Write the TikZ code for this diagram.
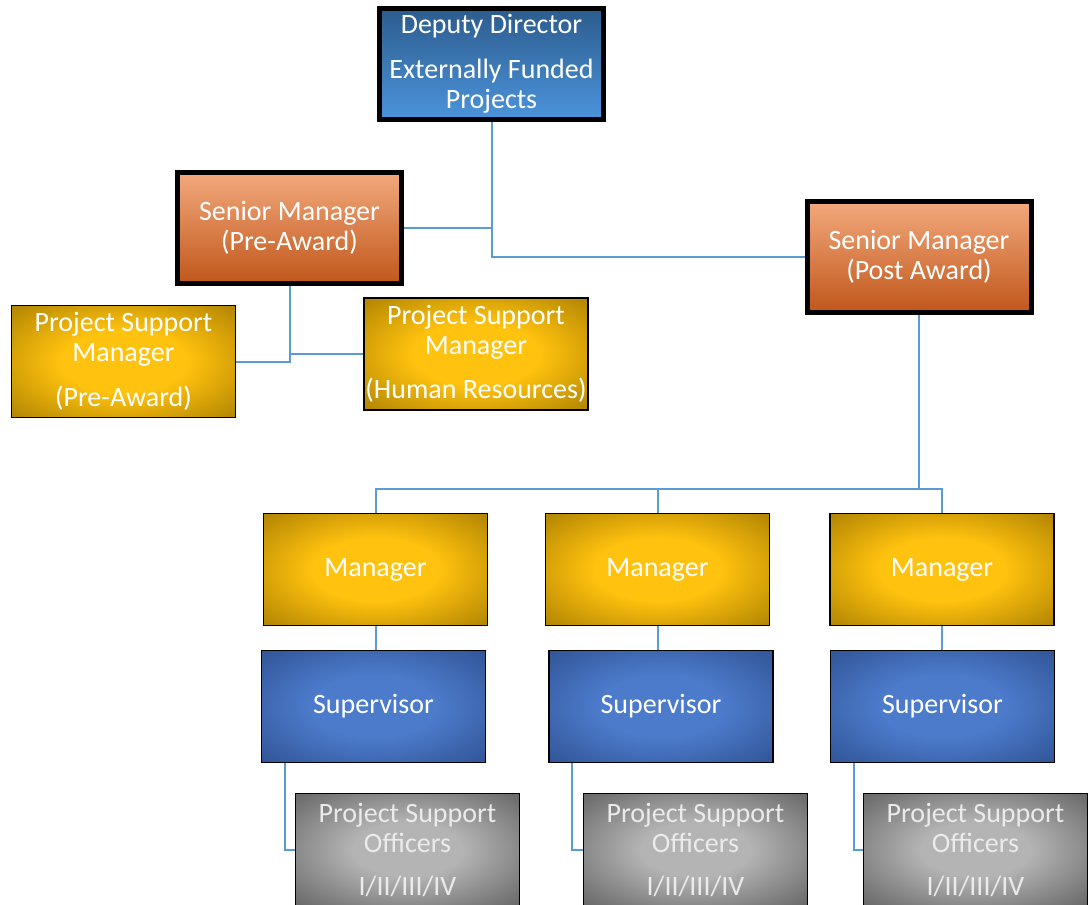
\documentclass[tikz,border=0pt]{standalone}
\usepackage{fontspec}
\setmainfont{Carlito}
\usetikzlibrary{calc}

\definecolor{linkblue}{HTML}{5B9BD5}
\definecolor{ddtop}{HTML}{2D5C8E}
\definecolor{ddbot}{HTML}{4B94DB}
\definecolor{smtop}{HTML}{F3A97D}
\definecolor{smmid}{HTML}{EC7D35}
\definecolor{smbot}{HTML}{C0571B}
\definecolor{goldmid}{HTML}{FFC20E}
\definecolor{goldedge}{HTML}{A07700}
\definecolor{supmid}{HTML}{4C7BCB}
\definecolor{supedge}{HTML}{2B4C8B}
\definecolor{greymid}{HTML}{B4B4B4}
\definecolor{greyedge}{HTML}{585858}

\pgfdeclareradialshading{goldbox}{\pgfpoint{0bp}{0bp}}%
  {color(0bp)=(goldmid); color(14bp)=(goldmid); color(40bp)=(goldedge); color(50bp)=(goldedge)}
\pgfdeclareradialshading{supbox}{\pgfpoint{0bp}{0bp}}%
  {color(0bp)=(supmid); color(14bp)=(supmid); color(40bp)=(supedge); color(50bp)=(supedge)}
\pgfdeclareradialshading{greybox}{\pgfpoint{0bp}{0bp}}%
  {color(0bp)=(greymid); color(12bp)=(greymid); color(40bp)=(greyedge); color(50bp)=(greyedge)}

\begin{document}
\begin{tikzpicture}[x=0.5pt, y=-0.5pt, line join=miter,
    unit/.style={draw=black, line width=0.75pt, align=center,
                 minimum width=112pt, minimum height=56pt, inner sep=0pt,
                 text=white, font=\fontsize{14}{15}\selectfont},
    head/.style={unit, line width=2.5pt, minimum height=55.5pt},
    director/.style={head, top color=ddtop, bottom color=ddbot},
    senior/.style={head, top color=smtop, middle color=smmid, bottom color=smbot},
    goldunit/.style={unit, shading=goldbox},
    supunit/.style={unit, shading=supbox},
    officer/.style={unit, shading=greybox, text=white!92!black},
    link/.style={draw=linkblue, line width=1pt}]

  \path[fill=white, use as bounding box] (0,0) rectangle (1088,905);

  % ── top of the chart ─────────────────────────────────────────────────────

  \node[director] (dd) at (491.5, 64)
    {Deputy Director\\[7.5pt]Externally Funded\\Projects};

  \node[senior] (smpre)  at (289.5, 228)  {Senior Manager\\(Pre-Award)};
  \node[senior] (smpost) at (919, 256.5)  {Senior Manager\\(Post Award)};

  \draw[link] (dd.south) |- (smpost.west);
  \draw[link] (smpre.east) -| (dd.south);

  % ── pre-award side ───────────────────────────────────────────────────────

  \node[goldunit] (psmpre) at (123.5, 361.5)
    {Project Support\\Manager\\[7.5pt](Pre-Award)};
  \node[goldunit] (psmhr) at (476, 354)
    {Project Support\\Manager\\[7pt](Human Resources)};

  \draw[link] (smpre.south) |- (psmpre.east);
  \draw[link] (smpre.south) |- (psmhr.west);

  % ── post-award teams ─────────────────────────────────────────────────────

  \coordinate (bus) at (919, 489);
  \draw[link] (smpost.south) -- (bus);

  \foreach \i/\mx/\sx/\ox in {1/375.5/373.5/407.5,
                              2/657.5/661/695.5,
                              3/942/942.5/975.5} {
    \node[goldunit] (mgr\i) at (\mx, 569.5) {Manager};
    \node[supunit]  (sup\i) at (\sx, 706.5) {Supervisor};
    \node[officer]  (pso\i) at (\ox, 849.5)
      {Project Support\\Officers\\[6.5pt]I/II/III/IV};

    \draw[link] (bus) -| (mgr\i.north);
    \draw[link] (mgr\i.south) -- (mgr\i.south |- sup\i.north);
    \draw[link] ($(sup\i.south west)+(24,0)$) |- (pso\i.west);
  }

\end{tikzpicture}
\end{document}
